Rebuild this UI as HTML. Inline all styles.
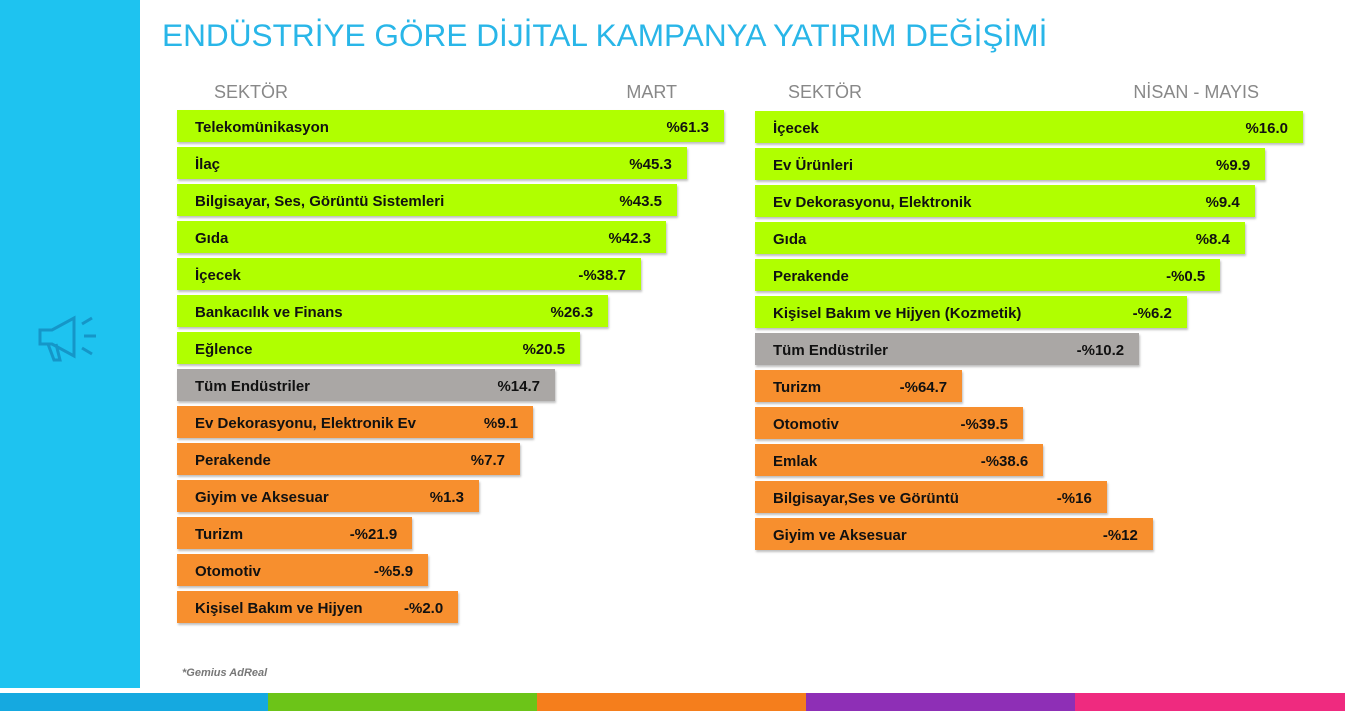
<!DOCTYPE html>
<html><head><meta charset="utf-8"><style>
body{margin:0;width:1345px;height:711px;background:#fff;position:relative;overflow:hidden;font-family:"Liberation Sans",Arial,sans-serif}
.abs{position:absolute}
.bar{position:absolute;height:32px;box-shadow:1px 2px 2px rgba(0,0,0,.25)}
.lab{position:absolute;font-weight:bold;font-size:15px;color:#111;line-height:32px;padding-top:2px;white-space:nowrap}
.hdr{position:absolute;font-size:18px;color:#888;top:82px}
</style></head><body>
<div class="abs" style="left:0;top:0;width:140px;height:688px;background:#1ec3f0"></div>
<svg class="abs" style="left:36px;top:314px" width="66" height="50" viewBox="0 0 66 50">
<g fill="none" stroke="#1596c8" stroke-width="3"><path d="M4 16h12l22-12v38L16 30H4z"/><path d="M12 30l6 16h6l-4-16"/><path d="M46 10l10-6M48 22h12M46 34l10 6"/></g></svg>
<div class="abs" style="left:162px;top:17px;font-size:31.6px;color:#29b6e8;white-space:nowrap">ENDÜSTRİYE GÖRE DİJİTAL KAMPANYA YATIRIM DEĞİŞİMİ</div>
<div class="hdr" style="left:214px">SEKTÖR</div>
<div class="hdr" style="right:668px">MART</div>
<div class="hdr" style="left:788px">SEKTÖR</div>
<div class="hdr" style="right:86px">NİSAN - MAYIS</div>
<div id="charts"></div>
<div class="abs" style="left:182px;top:667px;font-size:11px;font-style:italic;font-weight:bold;color:#777">*Gemius AdReal</div>
<div class="abs" style="left:0;top:693px;width:268px;height:18px;background:#15a9e0"></div>
<div class="abs" style="left:268px;top:693px;width:269px;height:18px;background:#6cc418"></div>
<div class="abs" style="left:537px;top:693px;width:269px;height:18px;background:#f57e1c"></div>
<div class="abs" style="left:806px;top:693px;width:269px;height:18px;background:#8e2fb6"></div>
<div class="abs" style="left:1075px;top:693px;width:270px;height:18px;background:#ef2a7f"></div>
<script>
// Left panel (MART)
const leftCategories=["Telekomünikasyon","İlaç","Bilgisayar, Ses, Görüntü Sistemleri","Gıda","İçecek","Bankacılık ve Finans","Eğlence","Tüm Endüstriler","Ev Dekorasyonu, Elektronik Ev","Perakende","Giyim ve Aksesuar","Turizm","Otomotiv","Kişisel Bakım ve Hijyen"];
const leftValues=["%61.3","%45.3","%43.5","%42.3","-%38.7","%26.3","%20.5","%14.7","%9.1","%7.7","%1.3","-%21.9","-%5.9","-%2.0"];
// Bar lengths as shown in the infographic (relative units, longest = 100)
const leftLengths=[100,93.2,91.4,89.4,84.8,78.8,73.7,69.1,65.1,62.7,55.2,43,45.9,51.4];
const leftGroups=["g","g","g","g","g","g","g","t","o","o","o","o","o","o"];
// Right panel (NİSAN - MAYIS)
const rightCategories=["İçecek","Ev Ürünleri","Ev Dekorasyonu, Elektronik","Gıda","Perakende","Kişisel Bakım ve Hijyen (Kozmetik)","Tüm Endüstriler","Turizm","Otomotiv","Emlak","Bilgisayar,Ses ve Görüntü","Giyim ve Aksesuar"];
const rightValues=["%16.0","%9.9","%9.4","%8.4","-%0.5","-%6.2","-%10.2","-%64.7","-%39.5","-%38.6","-%16","-%12"];
const rightLengths=[100,93.1,91.2,89.4,84.9,78.8,70.1,37.8,48.9,52.6,64.2,72.6];
const rightGroups=["g","g","g","g","g","g","t","o","o","o","o","o"];
const colors={g:"#b0ff00",t:"#aaa7a5",o:"#f78f2e"};
const root=document.getElementById('charts');
function draw(side,cats,vals,lens,groups,x0,fullW,y0){
  const xs=v=>v/100*fullW, ys=i=>y0+i*37;
  cats.forEach((c,i)=>{
    const w=xs(lens[i]);
    const b=document.createElement('div');
    b.className='bar';
    
    
    b.style.cssText+=`left:${x0}px;top:${ys(i)}px;width:${w}px;background:${colors[groups[i]]}`;
    root.appendChild(b);
    const l=document.createElement('div');
    l.className='lab';
    
    
    l.style.left=(x0+18)+'px';l.style.top=ys(i)+'px';
    l.textContent=c;root.appendChild(l);
    const v=document.createElement('div');
    v.className='lab';
    
    
    v.style.right=(1345-(x0+w-15))+'px';v.style.top=ys(i)+'px';
    v.textContent=vals[i];root.appendChild(v);
  });
}
draw('left',leftCategories,leftValues,leftLengths,leftGroups,177,547,110);
draw('right',rightCategories,rightValues,rightLengths,rightGroups,755,548,111);
</script>
</body></html>
